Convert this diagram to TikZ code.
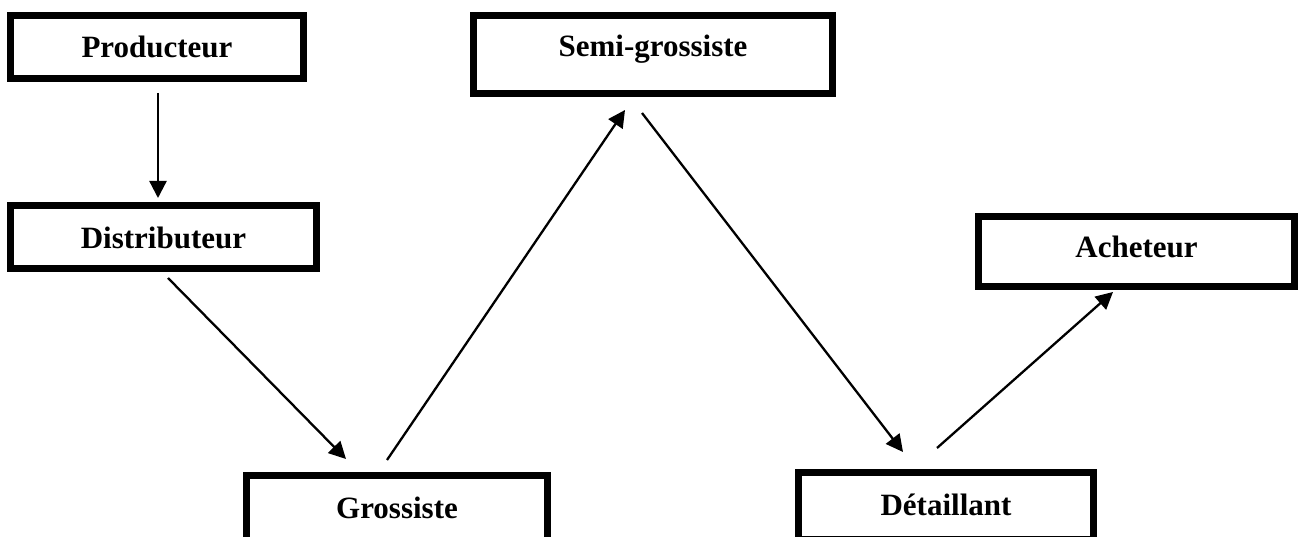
\documentclass[tikz,border=0pt]{standalone}
\usepackage{fontspec}
\setmainfont{Liberation Serif}
\usetikzlibrary{arrows.meta}
\begin{document}
\begin{tikzpicture}[x=1pt,y=-1pt,
  box/.style={draw, line width=6.6pt, rectangle, inner sep=0pt, fill=white,
    text height=#1, text depth=0pt,
    font=\fontsize{31}{37}\selectfont\bfseries},
  flow/.style={line width=2.3pt, -{Triangle[length=17pt,width=17pt]}}]
\useasboundingbox (0,0) rectangle (1300,537);
\node[box=22pt, minimum width=293.5pt, minimum height=63.5pt] (prod) at (157,47) {Producteur};
\node[box=22pt, minimum width=306.5pt, minimum height=63.5pt] (dist) at (163.5,237) {Distributeur};
\node[box=5pt, minimum width=359.5pt, minimum height=78.5pt] (semi) at (653,54.5) {Semi-grossiste};
\node[box=19pt, minimum width=301.5pt, minimum height=66.5pt] (gros) at (397,508.5) {Grossiste};
\node[box=18pt, minimum width=295.5pt, minimum height=67.5pt] (deta) at (946,506) {Détaillant};
\node[box=13pt, minimum width=316.5pt, minimum height=70.5pt] (ach) at (1136.5,251.5) {Acheteur};
% connector end points
\coordinate (p1) at (158,93);   \coordinate (d1) at (158,198);
\coordinate (d2) at (168,278);  \coordinate (g1) at (346,459);
\coordinate (g2) at (387,460);  \coordinate (s1) at (625,110);
\coordinate (s2) at (642,113);  \coordinate (t1) at (903,452);
\coordinate (t2) at (937,448);  \coordinate (a1) at (1113,292);
\draw[flow] (p1) -- (d1);
\draw[flow] (d2) -- (g1);
\draw[flow] (g2) -- (s1);
\draw[flow] (s2) -- (t1);
\draw[flow] (t2) -- (a1);
\end{tikzpicture}
\end{document}
